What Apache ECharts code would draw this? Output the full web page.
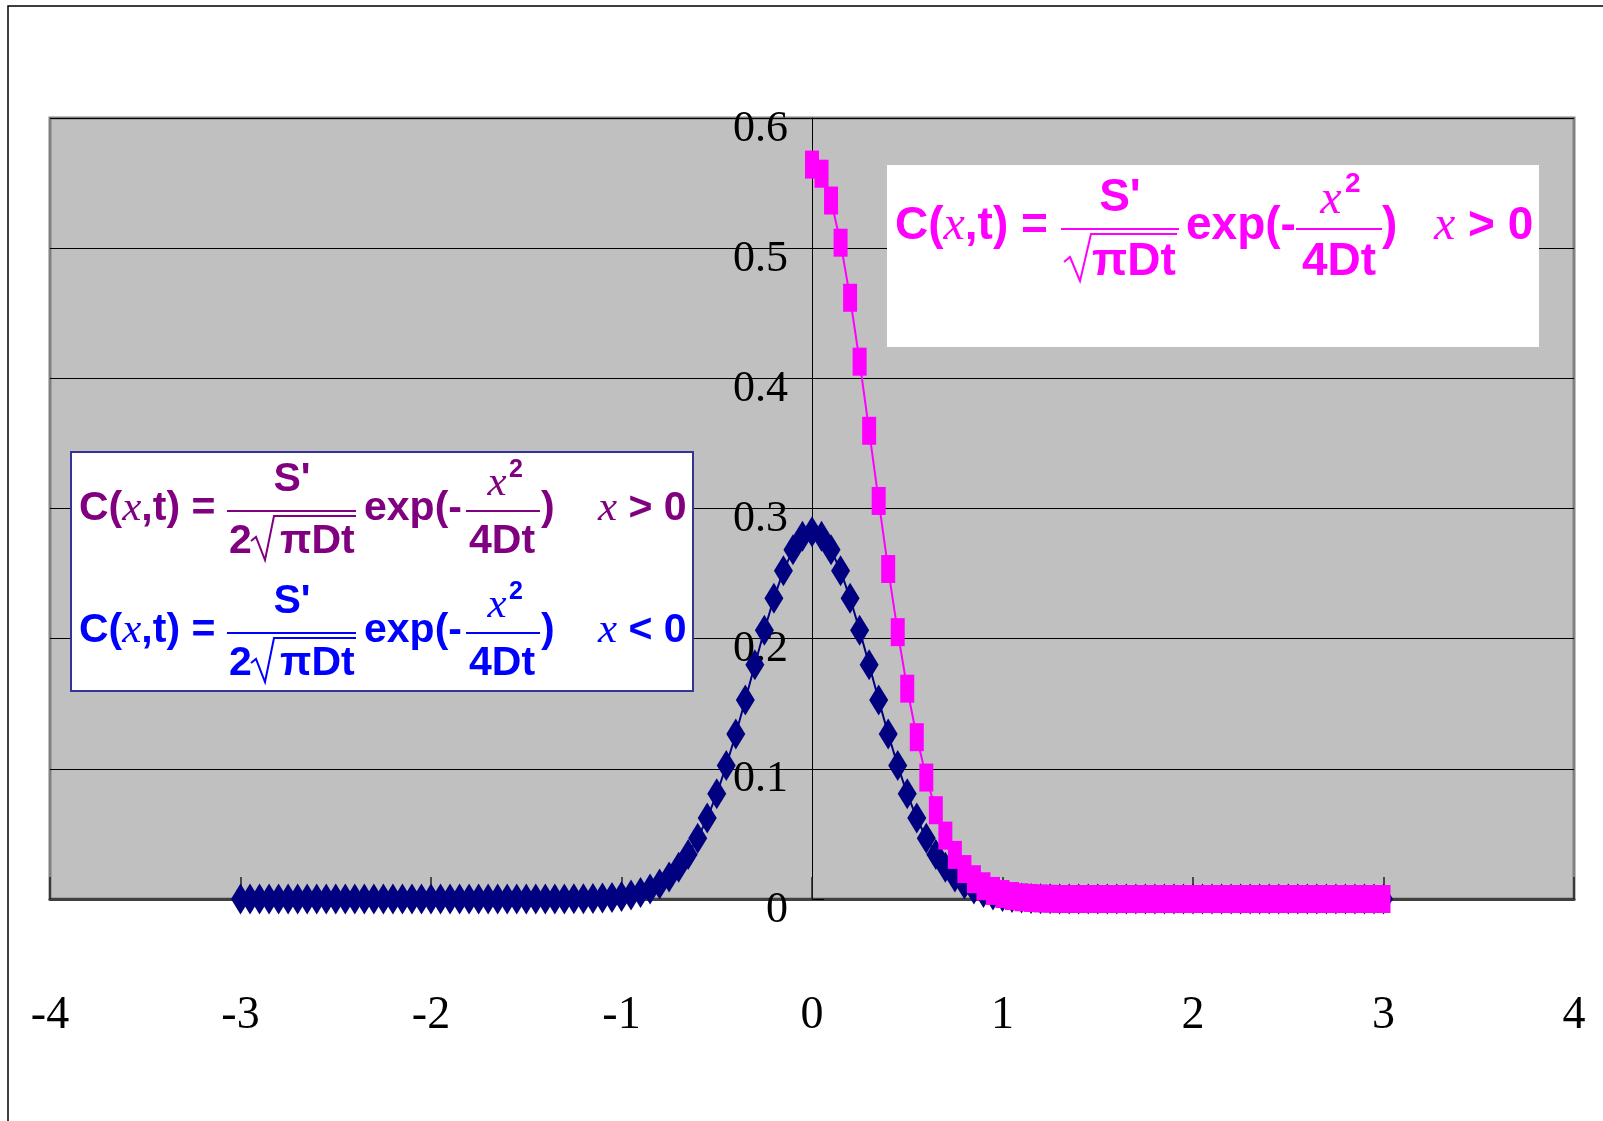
<!DOCTYPE html>
<html>
<head>
<meta charset="utf-8">
<script src="https://cdn.jsdelivr.net/npm/echarts@6/dist/echarts.min.js"></script>
<style>
html,body{margin:0;padding:0;background:#fff;}
#chart{width:1603px;height:1121px;}
</style>
</head>
<body>
<div id="chart"></div>
<script>
// x positions of the navy diamond series (-3 .. 3)
const xBlue = [-3.00,-2.95,-2.90,-2.85,-2.80,-2.75,-2.70,-2.65,-2.60,-2.55,-2.50,-2.45,-2.40,-2.35,-2.30,-2.25,-2.20,-2.15,-2.10,-2.05,
-2.00,-1.95,-1.90,-1.85,-1.80,-1.75,-1.70,-1.65,-1.60,-1.55,-1.50,-1.45,-1.40,-1.35,-1.30,-1.25,-1.20,-1.15,-1.10,-1.05,
-1.00,-0.95,-0.90,-0.85,-0.80,-0.75,-0.70,-0.65,-0.60,-0.55,-0.50,-0.45,-0.40,-0.35,-0.30,-0.25,-0.20,-0.15,-0.10,-0.05,
0.00,0.05,0.10,0.15,0.20,0.25,0.30,0.35,0.40,0.45,0.50,0.55,0.60,0.65,0.70,0.75,0.80,0.85,0.90,0.95,
1.00,1.05,1.10,1.15,1.20,1.25,1.30,1.35,1.40,1.45,1.50,1.55,1.60,1.65,1.70,1.75,1.80,1.85,1.90,1.95,
2.00,2.05,2.10,2.15,2.20,2.25,2.30,2.35,2.40,2.45,2.50,2.55,2.60,2.65,2.70,2.75,2.80,2.85,2.90,2.95,3.00];
// navy diamond values
const yBlue = [0,0,0,0,0,0,0,0,0,0,0,0,0,0,0,0,0,0,0,0,
0,0,0,0,0,0,0,0,0,0,0,0,0,0,0,0.0001,0.0002,0.0004,0.0007,0.0011,
0.0019,0.0031,0.0049,0.0076,0.0115,0.0169,0.0243,0.0341,0.0466,0.0622,0.0808,0.1025,0.1268,0.1529,0.1799,0.2064,0.2310,0.2521,0.2683,0.2786,
0.2821,0.2786,0.2683,0.2521,0.2310,0.2064,0.1799,0.1529,0.1268,0.1025,0.0808,0.0622,0.0466,0.0341,0.0243,0.0169,0.0115,0.0076,0.0049,0.0031,
0.0019,0.0011,0.0007,0.0004,0.0002,0.0001,0,0,0,0,0,0,0,0,0,0,0,0,0,0,
0,0,0,0,0,0,0,0,0,0,0,0,0,0,0,0,0,0,0,0,0];
// x positions of the magenta square series (0 .. 3)
const xPink = [0.00,0.05,0.10,0.15,0.20,0.25,0.30,0.35,0.40,0.45,0.50,0.55,0.60,0.65,0.70,0.75,0.80,0.85,0.90,0.95,
1.00,1.05,1.10,1.15,1.20,1.25,1.30,1.35,1.40,1.45,1.50,1.55,1.60,1.65,1.70,1.75,1.80,1.85,1.90,1.95,
2.00,2.05,2.10,2.15,2.20,2.25,2.30,2.35,2.40,2.45,2.50,2.55,2.60,2.65,2.70,2.75,2.80,2.85,2.90,2.95,3.00];
// magenta square values
const yPink = [0.5642,0.5572,0.5366,0.5042,0.4619,0.4128,0.3597,0.3058,0.2535,0.2050,0.1616,0.1243,0.0933,0.0682,0.0487,0.0339,0.0230,0.0152,0.0098,0.0062,
0.0038,0.0023,0.0013,0.0008,0.0004,0.0002,0,0,0,0,0,0,0,0,0,0,0,0,0,0,
0,0,0,0,0,0,0,0,0,0,0,0,0,0,0,0,0,0,0,0,0];

const xTicks = {min:-4, max:4, interval:1};
const yTicks = {min:0, max:0.6, interval:0.1};

const blueData = xBlue.map((x,i)=>[x, yBlue[i]]);
const pinkData = xPink.map((x,i)=>[x, yPink[i]]);

// ---- formula annotation helpers ----
function rt(x,y,text,S,color){
  return {type:'text', x:x, y:y, z:100, style:{text:text, fill:color, textAlign:'left', textVerticalAlign:'middle',
    rich:{a:{fontFamily:'Liberation Sans', fontWeight:'bold', fontSize:S, fill:color},
          i:{fontFamily:'Liberation Serif', fontStyle:'italic', fontSize:Math.round(S*1.05), fill:color}}}};
}
function tx(x,y,text,font,color,align){
  return {type:'text', x:x, y:y, z:100, style:{text:text, font:font, fill:color, textAlign:align||'left', textVerticalAlign:'middle'}};
}
function ln(x1,y1,x2,y2,color){
  return {type:'line', z:100, shape:{x1:x1,y1:y1,x2:x2,y2:y2}, style:{stroke:color, lineWidth:2}};
}
function pl(points,color){
  return {type:'polyline', z:100, shape:{points:points}, style:{stroke:color, lineWidth:2, fill:null}};
}
function sans(S){ return 'bold ' + S + 'px "Liberation Sans"'; }
function serif(S){ return 'italic ' + S + 'px "Liberation Serif"'; }

// box 1 (magenta, x > 0, without factor 2)
function formulaPink(){
  const c = '#FF00FF', S = 46, y0 = 226;
  return [
    rt(895, y0, '{a|C(}{i|x}{a|,t) =}', S, c),
    ln(1061, 229, 1179, 229, c),
    tx(1120, 198, "S'", sans(S), c, 'center'),
    pl([[1064,262],[1070,257],[1080,281],[1091,234],[1177,234]], c),
    tx(1134, 262, 'πDt', sans(S), c, 'center'),
    rt(1186, y0, '{a|exp(-}', S, c),
    ln(1296, 229, 1382, 229, c),
    tx(1331, 200, 'x', serif(48), c, 'center'),
    tx(1345, 184, '2', sans(28), c, 'left'),
    tx(1339, 262, '4Dt', sans(S), c, 'center'),
    rt(1382, y0, '{a|)}', S, c),
    rt(1434, y0, '{i|x}{a| > 0}', S, c)
  ];
}
// box 2 lines (with factor 2)
function formulaHalf(c, dy, sign){
  const S = 41, y0 = 509 + dy;
  return [
    rt(79, y0, '{a|C(}{i|x}{a|,t) =}', S, c),
    ln(227, 511+dy, 356, 511+dy, c),
    tx(292, 480+dy, "S'", sans(S), c, 'center'),
    tx(229, 542+dy, '2', sans(S), c, 'left'),
    pl([[251,541+dy],[256,537+dy],[265,560+dy],[274,516+dy],[356,516+dy]], c),
    tx(280, 542+dy, 'πDt', sans(S), c, 'left'),
    rt(364, y0, '{a|exp(-}', S, c),
    ln(466, 511+dy, 540, 511+dy, c),
    tx(497, 484+dy, 'x', serif(43), c, 'center'),
    tx(509, 470+dy, '2', sans(25), c, 'left'),
    tx(502, 542+dy, '4Dt', sans(S), c, 'center'),
    rt(541, y0, '{a|)}', S, c),
    rt(598, y0, '{i|x}{a| ' + sign + ' 0}', S, c)
  ];
}

const graphics = [
  {type:'rect', z:0, shape:{x:8, y:6, width:1800, height:1400}, style:{fill:null, stroke:'#000', lineWidth:1.5}},
  {type:'rect', z:99, shape:{x:887, y:165, width:652, height:182}, style:{fill:'#fff', stroke:null}},
  {type:'rect', z:99, shape:{x:71, y:452, width:622, height:239}, style:{fill:'#fff', stroke:'#333399', lineWidth:2}}
].concat(formulaPink(), formulaHalf('#800080', 0, '>'), formulaHalf('#0000FF', 122, '<'));

const GRID_LEFT = 50, GRID_RIGHT = 29;
const plotW = 1603 - GRID_LEFT - GRID_RIGHT;
// y axis sits where x = 0 on the x scale
const yAxisOffset = -plotW * (0 - xTicks.min) / (xTicks.max - xTicks.min);

const chart = echarts.init(document.getElementById('chart'));
chart.setOption({
  animation:false,
  backgroundColor:'#fff',
  grid:{left:GRID_LEFT, right:GRID_RIGHT, top:118, bottom:222, show:true, backgroundColor:'#C0C0C0', borderColor:'#808080', borderWidth:3,
        containLabel:false, outerBoundsMode:'none'},
  xAxis:{
    type:'value', min:xTicks.min, max:xTicks.max, interval:xTicks.interval,
    axisLine:{show:true, onZero:true, lineStyle:{color:'#404040', width:3}},
    axisTick:{show:true, inside:true, length:22, lineStyle:{color:'#202020', width:1.5}},
    axisLabel:{margin:94, fontFamily:'Liberation Serif', fontSize:46, color:'#000'},
    splitLine:{show:false}
  },
  yAxis:{
    type:'value', min:yTicks.min, max:yTicks.max, interval:yTicks.interval, position:'left', offset:yAxisOffset,
    axisLine:{show:true, onZero:false, lineStyle:{color:'#000', width:1}},
    axisTick:{show:true, inside:true, length:12, lineStyle:{color:'#000', width:1}},
    axisLabel:{margin:24, fontFamily:'Liberation Serif', fontSize:44, color:'#000', verticalAlign:'top', lineHeight:22},
    splitLine:{show:true, lineStyle:{color:'#000', width:1}}
  },
  series:[
    {type:'line', data:blueData, symbol:'diamond', symbolSize:[19,31], showAllSymbol:true, clip:false, z:2,
     itemStyle:{color:'#000080'}, lineStyle:{color:'#000080', width:2}},
    {type:'line', data:pinkData, symbol:'rect', symbolSize:[14,28], showAllSymbol:true, clip:false, z:3,
     itemStyle:{color:'#FF00FF'}, lineStyle:{color:'#FF00FF', width:2}}
  ],
  graphic:graphics
});
</script>
</body>
</html>
